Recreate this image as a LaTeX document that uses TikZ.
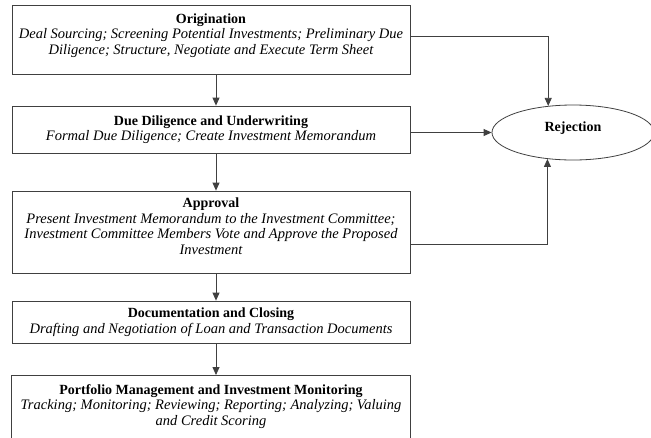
\documentclass[tikz,border=0pt]{standalone}
\usepackage{fontspec}
\setmainfont{Liberation Serif}
\usetikzlibrary{shapes.geometric,arrows.meta,calc}
\newcommand{\ttl}[1]{{\fontsize{14}{15.5}\selectfont\bfseries #1}}
\newcommand{\sub}[1]{{\fontsize{14.5}{15.5}\selectfont\itshape #1}}
\begin{document}
\begin{tikzpicture}[x=1pt,y=-1pt,
  box/.style={draw=black!75, line width=0.8pt, rectangle, minimum width=398pt, align=center, inner sep=2pt, font=\fontsize{14}{15.5}\selectfont},
  boxtext/.style={rectangle, minimum width=398pt, align=center, inner xsep=2pt, inner ysep=9pt, font=\fontsize{14}{15.5}\selectfont},
  edge/.style={draw=black!75, line width=0.8pt},
  arr/.style={edge, -{Triangle[length=8pt,width=7pt]}},
  rejbox/.style={draw=black!75, line width=0.8pt, ellipse, minimum width=162pt, minimum height=55pt}
]
\useasboundingbox (0,0) rectangle (651,437);
\clip (0,0) rectangle (651,437);
\fill[white] (0,0) rectangle (651,437);

\node[box, minimum height=69pt] (b1) at (211,39.5)
  {\ttl{Origination}\\
   \sub{Deal Sourcing; Screening Potential Investments; Preliminary Due}\\
   \sub{Diligence; Structure, Negotiate and Execute Term Sheet}\\[-4pt]\mbox{}};
\node[box, minimum height=47pt] (b2) at (211,129.5)
  {\ttl{Due Diligence and Underwriting}\\
   \sub{Formal Due Diligence; Create Investment Memorandum}};
\node[box, minimum height=82pt] (b3) at (211,232)
  {\ttl{Approval}\\
   \sub{Present Investment Memorandum to the Investment Committee;}\\
   \sub{Investment Committee Members Vote and Approve the Proposed}\\
   \sub{Investment}\\[-4pt]\mbox{}};
\node[box, minimum height=42pt] (b4) at (211,322)
  {\ttl{Documentation and Closing}\\
   \sub{Drafting and Negotiation of Loan and Transaction Documents}};
\node[boxtext, anchor=north] (b5) at (211,375)
  {\ttl{Portfolio Management and Investment Monitoring}\\
   \sub{Tracking; Monitoring; Reviewing; Reporting; Analyzing; Valuing}\\
   \sub{and Credit Scoring}};
\draw[edge] ($(b5.north west)+(0,80)$) -- (b5.north west) -- (b5.north east) -- ($(b5.north east)+(0,80)$);

\node[rejbox, label={[yshift=4pt]center:\ttl{Rejection}}] (rej) at (573,132.5) {};

\draw[arr] ($(b1.south)+(5,0)$) -- ($(b2.north)+(5,0)$);
\draw[arr] ($(b2.south)+(5,0)$) -- ($(b3.north)+(5,0)$);
\draw[arr] ($(b3.south)+(5,0)$) -- ($(b4.north)+(5,0)$);
\draw[arr] ($(b4.south)+(5,0)$) -- ($(b5.north)+(5,0)$);

\draw[arr] ($(b1.east)+(0,-3.5)$) -| (rej.133.7);
\draw[arr] (b2.east |- rej.west) -- (rej.west);
\draw[arr] ($(b3.east)+(0,12)$) -| (rej.226.3);
\end{tikzpicture}
\end{document}
